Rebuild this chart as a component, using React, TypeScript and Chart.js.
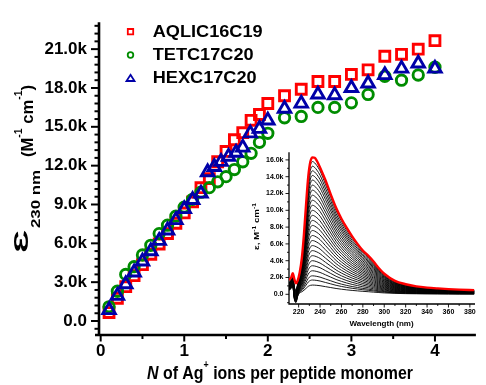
import React, { useEffect, useRef } from "react";
import { Chart, registerables } from "chart.js";

Chart.register(...registerables);

const FONT = "'Liberation Sans', Arial, Helvetica, sans-serif";
const RED = "#ff0000";
const GREEN = "#008c00";
const BLUE = "#0000a8";

// ---------- Main plot: N of Ag+ per peptide monomer vs ε230 (M^-1 cm^-1) ----------
const aqlicN = [0.1, 0.2, 0.3, 0.4, 0.5, 0.6, 0.7, 0.8, 0.9, 1.0, 1.1, 1.2, 1.3, 1.4, 1.5, 1.6, 1.7, 1.8, 1.9, 2.0, 2.2, 2.4, 2.6, 2.8, 3.0, 3.2, 3.4, 3.6, 3.8, 4.0];
const aqlicEps = [650, 1750, 2650, 3500, 4350, 5150, 5950, 6750, 7550, 8350, 9200, 10300, 11000, 12300, 13100, 14000, 14550, 15500, 15950, 16800, 17400, 17900, 18500, 18500, 19050, 19400, 20450, 20600, 21000, 21650];

const tetcN = [0.1, 0.2, 0.3, 0.4, 0.5, 0.6, 0.7, 0.8, 0.9, 1.0, 1.1, 1.2, 1.3, 1.4, 1.5, 1.6, 1.7, 1.8, 1.9, 2.0, 2.2, 2.4, 2.6, 2.8, 3.0, 3.2, 3.4, 3.6, 3.8, 4.0];
const tetcEps = [1100, 2300, 3600, 4200, 5100, 5850, 6750, 7400, 8100, 8800, 9400, 9950, 10300, 10750, 11150, 11700, 12300, 12950, 13800, 14500, 15700, 15800, 16500, 16500, 16850, 17500, 18900, 18600, 19000, 19600];

const hexcN = [0.1, 0.2, 0.3, 0.4, 0.5, 0.6, 0.7, 0.8, 0.9, 1.0, 1.1, 1.2, 1.28, 1.36, 1.44, 1.53, 1.62, 1.7, 1.79, 1.9, 2.0, 2.2, 2.4, 2.6, 2.8, 3.0, 3.2, 3.4, 3.6, 3.8, 4.0];
const hexcEps = [850, 1950, 2850, 3750, 4600, 5400, 6200, 7000, 7800, 8650, 9350, 9850, 11500, 11900, 12300, 12700, 13000, 13400, 14500, 14850, 15500, 16400, 16800, 17500, 17450, 18000, 18350, 19000, 19500, 19900, 19500];

const seriesNames = ["AQLIC16C19", "TETC17C20", "HEXC17C20"];

const xMajorTicks = [0, 1, 2, 3, 4];
const xMinorTicks = [0.5, 1.5, 2.5, 3.5];
const yMajorTicks = [0, 3000, 6000, 9000, 12000, 15000, 18000, 21000];
const yMinorStep = 600;

// ---------- Inset: spectra, ε (M^-1 cm^-1) vs wavelength (nm) ----------
const wavelengths = [211, 213, 214.5, 216, 217.5, 219, 221, 223, 225, 227, 229, 231, 233, 235, 237, 240, 245, 250, 255, 260, 265, 270, 275, 280, 285, 290, 295, 300, 310, 320, 330, 340, 350, 360, 370, 384];
const finalSpectrum = [1700, 2000, 2500, 1800, 1300, 1600, 2600, 4300, 7200, 10800, 14000, 15800, 16300, 16250, 15900, 15100, 13600, 11900, 10300, 9000, 7900, 6900, 6000, 5200, 4600, 3900, 3100, 2450, 1600, 1200, 950, 800, 700, 620, 560, 500];
// titration spectra: read peak heights and common profile / baseline wiggle
const titrationPeaks = [15800, 15250, 14700, 14150, 13600, 13000, 12400, 11800, 11200, 10600, 10000, 9400, 8800, 8200, 7600, 7000, 6400, 5800, 5200, 4600, 4000, 3400, 2800, 2200, 1700, 1100];
const titrationProfile = [0.06, 0.07, 0.08, 0.1, 0.1, 0.1, 0.16, 0.27, 0.44, 0.65, 0.86, 0.97, 1.0, 0.99, 0.97, 0.93, 0.83, 0.73, 0.63, 0.55, 0.48, 0.42, 0.37, 0.32, 0.28, 0.235, 0.19, 0.15, 0.1, 0.07, 0.055, 0.045, 0.04, 0.035, 0.03, 0.028];
const titrationBaseline = [400, 600, 800, -700, -1100, -400, 0, 0, 0, 0, 0, 0, 0, 0, 0, 0, 0, 0, 0, 0, 0, 0, 0, 0, 0, 0, 0, 0, 0, 0, 0, 0, 0, 0, 0, 0];

const insetXMajor = [220, 240, 260, 280, 300, 320, 340, 360, 380];
const insetXMinorStep = 10;
const insetYMajor = [0, 2000, 4000, 6000, 8000, 10000, 12000, 14000, 16000];
const insetYMinorStep = 1000;

type Seg = { t: string; size: number; italic?: boolean; shift?: number };

function segFont(s: Seg) {
  return `${s.italic ? "italic " : ""}bold ${s.size}px ${FONT}`;
}

function drawSegs(ctx: CanvasRenderingContext2D, segs: Seg[], x0: number, y0: number, length: number, rotated: boolean) {
  ctx.save();
  let W = 0;
  const widths = segs.map((s) => {
    ctx.font = segFont(s);
    const w = ctx.measureText(s.t).width;
    W += w;
    return w;
  });
  const k = length ? length / W : 1;
  ctx.translate(x0, y0);
  if (rotated) ctx.rotate(-Math.PI / 2);
  ctx.scale(k, 1);
  ctx.fillStyle = "#000";
  ctx.textAlign = "left";
  ctx.textBaseline = "alphabetic";
  let cx = 0;
  segs.forEach((s, i) => {
    ctx.font = segFont(s);
    ctx.fillText(s.t, cx, s.shift || 0);
    cx += widths[i];
  });
  ctx.restore();
}

function legendMarker(ctx: CanvasRenderingContext2D, kind: string, x: number, y: number, color: string) {
  ctx.save();
  ctx.strokeStyle = color;
  ctx.lineWidth = 1.8;
  ctx.beginPath();
  if (kind === "rect") ctx.rect(x - 2.7, y - 2.7, 5.4, 5.4);
  else if (kind === "circle") ctx.arc(x, y, 2.8, 0, Math.PI * 2);
  else {
    ctx.moveTo(x, y - 3.5);
    ctx.lineTo(x + 4, y + 2.7);
    ctx.lineTo(x - 4, y + 2.7);
    ctx.closePath();
  }
  ctx.stroke();
  ctx.restore();
}

const mainPlugin = {
  id: "mainDecor",
  beforeDatasetsDraw(chart: any) {
    const { ctx, chartArea: ca, scales } = chart;
    const x = scales.x;
    const y = scales.y;
    ctx.save();
    ctx.strokeStyle = "#000";
    ctx.lineCap = "butt";
    ctx.lineWidth = 2;
    for (let v = -yMinorStep; v <= y.max; v += yMinorStep) {
      const py = y.getPixelForValue(v);
      const major = yMajorTicks.includes(v);
      ctx.beginPath();
      ctx.moveTo(ca.left - (major ? 8 : 4.5), py);
      ctx.lineTo(ca.left, py);
      ctx.stroke();
    }
    xMajorTicks.forEach((v) => {
      const px = x.getPixelForValue(v);
      ctx.beginPath();
      ctx.moveTo(px, ca.bottom);
      ctx.lineTo(px, ca.bottom + 6.5);
      ctx.stroke();
    });
    xMinorTicks.forEach((v) => {
      const px = x.getPixelForValue(v);
      ctx.beginPath();
      ctx.moveTo(px, ca.bottom);
      ctx.lineTo(px, ca.bottom + 4);
      ctx.stroke();
    });
    ctx.lineWidth = 2.6;
    ctx.beginPath();
    ctx.moveTo(ca.left, ca.top);
    ctx.lineTo(ca.left, ca.bottom + 1);
    ctx.moveTo(ca.left - 4, ca.bottom);
    ctx.lineTo(ca.right, ca.bottom);
    ctx.stroke();
    ctx.restore();
  },
  afterDraw(chart: any) {
    const ctx: CanvasRenderingContext2D = chart.ctx;
    const rows = [31.7, 55, 78.3];
    const kinds = ["rect", "circle", "triangle"];
    const colors = [RED, GREEN, BLUE];
    rows.forEach((ry, i) => {
      legendMarker(ctx, kinds[i], 130.5, ry, colors[i]);
      ctx.save();
      ctx.font = `bold 16.5px ${FONT}`;
      ctx.textBaseline = "middle";
      ctx.fillStyle = "#000";
      ctx.translate(152.7, ry + 0.5);
      ctx.scale(1.1, 1);
      ctx.fillText(seriesNames[i], 0, 0);
      ctx.restore();
    });
    drawSegs(ctx, [{ t: "\u0190", size: 21 }], 27.5, 253, 23, true);
    drawSegs(ctx, [{ t: "230 nm", size: 12 }], 40, 228, 58, true);
    drawSegs(
      ctx,
      [
        { t: "(M", size: 16 },
        { t: "-1", size: 10, shift: -11 },
        { t: " cm", size: 16 },
        { t: "-1", size: 10, shift: -11 },
        { t: ")", size: 16 },
      ],
      32.5,
      157,
      72,
      true
    );
    drawSegs(
      ctx,
      [
        { t: "N", size: 18, italic: true },
        { t: " of Ag", size: 18 },
        { t: "+", size: 10, shift: -11 },
        { t: " ions per peptide monomer", size: 18 },
      ],
      147,
      379.3,
      266,
      false
    );
  },
};

const insetPlugin = {
  id: "insetDecor",
  beforeDatasetsDraw(chart: any) {
    const { ctx, chartArea: ca, scales } = chart;
    const x = scales.x;
    const y = scales.y;
    ctx.save();
    ctx.strokeStyle = "#000";
    ctx.lineWidth = 0.9;
    for (let v = -insetYMinorStep; v <= y.max; v += insetYMinorStep) {
      const py = y.getPixelForValue(v);
      const major = insetYMajor.includes(v);
      ctx.beginPath();
      ctx.moveTo(ca.left - (major ? 3.5 : 2), py);
      ctx.lineTo(ca.left, py);
      ctx.stroke();
    }
    for (let v = 220; v <= x.max; v += insetXMinorStep) {
      const px = x.getPixelForValue(v);
      const major = insetXMajor.includes(v);
      ctx.beginPath();
      ctx.moveTo(px, ca.bottom);
      ctx.lineTo(px, ca.bottom + (major ? 3.5 : 2));
      ctx.stroke();
    }
    ctx.lineWidth = 1.3;
    ctx.beginPath();
    ctx.moveTo(ca.left, ca.top);
    ctx.lineTo(ca.left, ca.bottom);
    ctx.lineTo(ca.right, ca.bottom);
    ctx.stroke();
    ctx.restore();
  },
  afterDraw(chart: any) {
    const ctx: CanvasRenderingContext2D = chart.ctx;
    drawSegs(
      ctx,
      [
        { t: "\u03b5, M", size: 8 },
        { t: "-1", size: 5.5, shift: -3.5 },
        { t: " cm", size: 8 },
        { t: "-1", size: 5.5, shift: -3.5 },
      ],
      19,
      110,
      47,
      true
    );
    ctx.save();
    ctx.font = `bold 8px ${FONT}`;
    ctx.fillStyle = "#000";
    ctx.textAlign = "center";
    ctx.textBaseline = "middle";
    ctx.fillText("Wavelength (nm)", 141.5, 183.5);
    ctx.restore();
  },
};

function mainConfig(): any {
  const pts = (xs: number[], ys: number[]) => xs.map((x, i) => ({ x, y: ys[i] }));
  return {
    type: "scatter",
    data: {
      datasets: [
        {
          label: seriesNames[0],
          data: pts(aqlicN, aqlicEps),
          pointStyle: "rect",
          pointRadius: 7,
          pointBorderWidth: 2.9,
          pointBorderColor: RED,
          pointBackgroundColor: "rgba(0,0,0,0)",
          order: 2,
        },
        {
          label: seriesNames[1],
          data: pts(tetcN, tetcEps),
          pointStyle: "circle",
          pointRadius: 5.2,
          pointBorderWidth: 2.9,
          pointBorderColor: GREEN,
          pointBackgroundColor: "rgba(0,0,0,0)",
          order: 1,
        },
        {
          label: seriesNames[2],
          data: pts(hexcN, hexcEps),
          pointStyle: "triangle",
          pointRadius: 7.2,
          pointBorderWidth: 2.9,
          pointBorderColor: BLUE,
          pointBackgroundColor: "rgba(0,0,0,0)",
          order: 0,
        },
      ],
    },
    options: {
      responsive: false,
      animation: false,
      events: [],
      layout: { padding: { left: 0, right: 0, top: 16, bottom: 0 } },
      plugins: { legend: { display: false }, tooltip: { enabled: false } },
      scales: {
        x: {
          type: "linear",
          min: -0.02,
          max: 4.49,
          grid: { display: false, drawTicks: false },
          border: { display: false },
          afterBuildTicks: (s: any) => {
            s.ticks = xMajorTicks.map((v) => ({ value: v }));
          },
          afterFit: (s: any) => {
            s.height = 50;
          },
          ticks: {
            padding: 6.5,
            color: "#000",
            autoSkip: false,
            maxRotation: 0,
            font: { family: FONT, size: 17, weight: "bold" },
            callback: (v: number) => String(v),
          },
        },
        y: {
          type: "linear",
          min: -1080,
          max: 23080,
          grid: { display: false, drawTicks: false },
          border: { display: false },
          afterBuildTicks: (s: any) => {
            s.ticks = yMajorTicks.map((v) => ({ value: v }));
          },
          afterFit: (s: any) => {
            s.width = 99;
          },
          ticks: {
            padding: 12,
            color: "#000",
            autoSkip: false,
            font: { family: FONT, size: 17, weight: "bold" },
            callback: (v: number) => (v === 0 ? "0.0" : (v / 1000).toFixed(1) + "k"),
          },
        },
      },
    },
    plugins: [mainPlugin],
  };
}

function insetConfig(): any {
  const line = (ys: number[]) => wavelengths.map((w, i) => ({ x: w, y: ys[i] }));
  const black = titrationPeaks.map((p) => ({
    data: line(titrationProfile.map((f, i) => titrationBaseline[i] + p * f)),
    showLine: true,
    borderColor: "#000",
    borderWidth: 0.9,
    pointRadius: 0,
    cubicInterpolationMode: "monotone",
    order: 1,
  }));
  return {
    type: "scatter",
    data: {
      datasets: [
        {
          data: line(finalSpectrum),
          showLine: true,
          borderColor: RED,
          borderWidth: 2.4,
          pointRadius: 0,
          cubicInterpolationMode: "monotone",
          order: 0,
        },
        ...black,
      ],
    },
    options: {
      responsive: false,
      animation: false,
      events: [],
      layout: { padding: { left: 0, right: 11, top: 12.3, bottom: 0 } },
      plugins: { legend: { display: false }, tooltip: { enabled: false } },
      scales: {
        x: {
          type: "linear",
          min: 211,
          max: 384.8,
          grid: { display: false, drawTicks: false },
          border: { display: false },
          afterBuildTicks: (s: any) => {
            s.ticks = insetXMajor.map((v) => ({ value: v }));
          },
          afterFit: (s: any) => {
            s.height = 31;
          },
          ticks: {
            padding: 3.5,
            color: "#000",
            autoSkip: false,
            maxRotation: 0,
            font: { family: FONT, size: 7, weight: "bold" },
            callback: (v: number) => String(v),
          },
        },
        y: {
          type: "linear",
          min: -1155,
          max: 16905,
          grid: { display: false, drawTicks: false },
          border: { display: false },
          afterBuildTicks: (s: any) => {
            s.ticks = insetYMajor.map((v) => ({ value: v }));
          },
          afterFit: (s: any) => {
            s.width = 49;
          },
          ticks: {
            padding: 5.5,
            color: "#000",
            autoSkip: false,
            font: { family: FONT, size: 7, weight: "bold" },
            callback: (v: number) => (v === 0 ? "0.0" : (v / 1000).toFixed(1) + "k"),
          },
        },
      },
    },
    plugins: [insetPlugin],
  };
}

export default function App() {
  const mainRef = useRef<HTMLCanvasElement>(null);
  const insetRef = useRef<HTMLCanvasElement>(null);
  useEffect(() => {
    document.body.style.margin = "0";
    const main = new Chart(mainRef.current as HTMLCanvasElement, mainConfig());
    const inset = new Chart(insetRef.current as HTMLCanvasElement, insetConfig());
    return () => {
      main.destroy();
      inset.destroy();
    };
  }, []);
  return (
    <div style={{ position: "relative", width: 486, height: 385, background: "#fff", overflow: "hidden" }}>
      <canvas
        ref={mainRef}
        width={486}
        height={385}
        style={{ position: "absolute", left: 0, top: 0, width: 486, height: 385 }}
      />
      <canvas
        ref={insetRef}
        width={246}
        height={195}
        style={{ position: "absolute", left: 240, top: 140, width: 246, height: 195 }}
      />
    </div>
  );
}
